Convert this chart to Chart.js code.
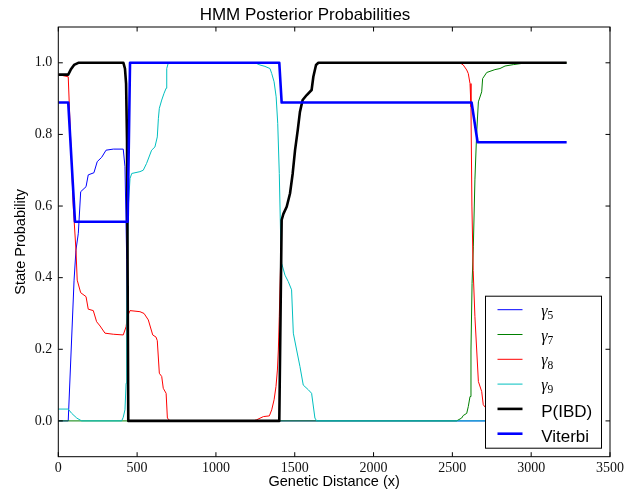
<!DOCTYPE html>
<html>
<head>
<meta charset="utf-8">
<title>HMM Posterior Probabilities</title>
<script src="https://cdn.jsdelivr.net/npm/chart.js@4.4.1/dist/chart.umd.min.js"></script>
<style>
    html, body { margin: 0; padding: 0; background: #fff; }
    #wrap { width: 627px; height: 497px; }
</style>
</head>
<body>
<div id="wrap"><canvas id="posteriorChart" width="627" height="497"></canvas></div>
<script>
// Axis ticks
const xTicks = [0, 500, 1000, 1500, 2000, 2500, 3000, 3500];
const yTicks = [0.0, 0.2, 0.4, 0.6, 0.8, 1.0];

// Posterior probability of each hidden state along the sequence, [distance, prob]
const gamma5 = [
    [0, 0], [63, 0], [100, 0.393], [112, 0.477], [127, 0.524], [142, 0.640],
    [176, 0.654], [190, 0.687], [226, 0.693], [247, 0.724], [275, 0.736],
    [303, 0.756], [349, 0.759], [412, 0.759], [423, 0.710], [434, 0.450],
    [444, 0], [3225, 0]
];
const gamma7 = [
    [0, 0], [2527, 0], [2559, 0.008], [2569, 0.015], [2591, 0.021], [2601, 0.040],
    [2612, 0.068], [2618, 0.198], [2625, 0.384], [2633, 0.486], [2643, 0.673],
    [2654, 0.803], [2665, 0.891], [2686, 0.919], [2692, 0.956], [2718, 0.973],
    [2770, 0.981], [2802, 0.984], [2834, 0.991], [2887, 0.995], [2971, 1.0], [3225, 1.0]
];
const gamma8 = [
    [0, 0.967], [63, 0.961], [95, 0.598], [112, 0.477], [120, 0.393], [142, 0.358],
    [176, 0.347], [190, 0.312], [222, 0.308], [243, 0.277], [265, 0.265], [296, 0.245],
    [349, 0.242], [412, 0.240], [430, 0.263], [438, 0.291], [455, 0.308], [518, 0.305],
    [544, 0.300], [571, 0.282], [599, 0.240], [620, 0.234], [628, 0.224], [641, 0.133],
    [656, 0.124], [666, 0.091], [684, 0.077], [692, 0.008], [709, 0], [1237, 0],
    [1258, 0.003], [1301, 0.012], [1339, 0.014], [1354, 0.031], [1369, 0.059],
    [1381, 0.096], [1390, 0.142], [1396, 0.198], [1402, 0.291], [1417, 0.561],
    [1428, 0.578], [1449, 0.598], [1470, 0.635], [1487, 0.691], [1502, 0.756],
    [1519, 0.812], [1533, 0.863], [1550, 0.896], [1576, 0.910], [1607, 0.924],
    [1618, 0.961], [1635, 0.994], [1650, 1.0], [2548, 1.0], [2569, 0.994],
    [2591, 0.980], [2601, 0.970], [2612, 0.942], [2618, 0.877], [2624, 0.600],
    [2632, 0.420], [2643, 0.291], [2665, 0.110], [2686, 0.082], [2696, 0.045],
    [2718, 0.033], [2760, 0], [3225, 0]
];
const gamma9 = [
    [0, 0.033], [63, 0.033], [85, 0.021], [117, 0.008], [148, 0], [402, 0],
    [412, 0.010], [423, 0.031], [430, 0.105], [434, 0.290], [440, 0.477], [444, 0.598],
    [455, 0.677], [466, 0.691], [518, 0.696], [539, 0.700], [560, 0.719], [592, 0.756],
    [613, 0.765], [628, 0.793], [635, 0.845], [641, 0.873], [656, 0.896], [671, 0.915],
    [684, 0.929], [688, 0.984], [698, 1.0], [1248, 1.0], [1279, 0.994], [1311, 0.990],
    [1343, 0.984], [1354, 0.970], [1369, 0.947], [1382, 0.905], [1392, 0.831],
    [1402, 0.691], [1411, 0.505], [1417, 0.440], [1438, 0.407], [1459, 0.389],
    [1480, 0.366], [1491, 0.245], [1512, 0.198], [1533, 0.152], [1554, 0.100],
    [1586, 0.087], [1607, 0.077], [1628, 0.008], [1639, 0], [3225, 0]
];
// Probability of identity by descent
const pIBD = [
    [0, 0.967], [63, 0.967], [79, 0.981], [100, 0.994], [127, 1.0], [413, 1.0],
    [423, 0.984], [430, 0.942], [436, 0.784], [444, 0], [1402, 0], [1417, 0.561],
    [1428, 0.578], [1449, 0.598], [1470, 0.635], [1487, 0.691], [1502, 0.756],
    [1519, 0.812], [1533, 0.863], [1550, 0.896], [1576, 0.910], [1607, 0.924],
    [1618, 0.961], [1635, 0.994], [1650, 1.0], [3225, 1.0]
];
// Viterbi path, state index / 9
const viterbi = [
    [0, 0.889], [63, 0.889], [106, 0.556], [440, 0.556], [455, 1.0], [1402, 1.0],
    [1417, 0.889], [2622, 0.889], [2660, 0.778], [3225, 0.778]
];

function toPoints(pairs) {
    return pairs.map(p => ({ x: p[0], y: p[1] }));
}

function series(label, pairs, color, width, order) {
    return {
        label: label,
        data: toPoints(pairs),
        borderColor: color,
        borderWidth: width,
        borderJoinStyle: 'round',
        pointRadius: 0,
        tension: 0,
        fill: false,
        order: order
    };
}

/**
 * Box frame with inward ticks on all four sides
 */
const frameTicks = {
    id: 'frameTicks',
    afterDatasetsDraw(chart) {
        const { ctx, chartArea: a, scales } = chart;
        const len = 4.5;
        ctx.save();
        ctx.strokeStyle = '#000';
        ctx.lineWidth = 1;
        ctx.beginPath();
        xTicks.forEach(v => {
            const px = scales.x.getPixelForValue(v);
            ctx.moveTo(px, a.bottom); ctx.lineTo(px, a.bottom - len);
            ctx.moveTo(px, a.top); ctx.lineTo(px, a.top + len);
        });
        yTicks.forEach(v => {
            const py = scales.y.getPixelForValue(v);
            ctx.moveTo(a.left, py); ctx.lineTo(a.left + len, py);
            ctx.moveTo(a.right, py); ctx.lineTo(a.right - len, py);
        });
        ctx.stroke();
        ctx.strokeRect(a.left, a.top, a.right - a.left, a.bottom - a.top);
        ctx.restore();
    }
};

/**
 * Legend in a bordered box at the lower right of the plot
 */
const boxLegend = {
    id: 'boxLegend',
    afterDraw(chart) {
        const { ctx, chartArea: a } = chart;
        const w = 116, h = 152;
        const left = a.right - 8.5 - w;
        const top = a.bottom - 8.5 - h;
        ctx.save();
        ctx.fillStyle = '#fff';
        ctx.fillRect(left, top, w, h);
        ctx.strokeStyle = '#000';
        ctx.lineWidth = 1;
        ctx.strokeRect(left, top, w, h);

        chart.data.datasets.forEach((ds, i) => {
            const rowY = top + 13.5 + i * 24.8;
            ctx.strokeStyle = ds.borderColor;
            ctx.lineWidth = ds.borderWidth;
            ctx.beginPath();
            ctx.moveTo(left + 12, rowY);
            ctx.lineTo(left + 37, rowY);
            ctx.stroke();

            const tx = left + 55.7;
            ctx.fillStyle = '#000';
            ctx.textAlign = 'left';
            ctx.textBaseline = 'alphabetic';
            if (ds.label.startsWith('γ')) {
                // greek symbol with a subscript index
                ctx.font = 'italic 16px "Liberation Serif"';
                ctx.fillText('γ', tx, rowY + 6);
                const gw = ctx.measureText('γ').width;
                ctx.font = '11.5px "Liberation Serif"';
                ctx.fillText(ds.label.slice(1), tx + gw, rowY + 9.3);
            } else {
                ctx.font = '17px "Liberation Sans"';
                ctx.fillText(ds.label, tx, rowY + 8.4);
            }
        });
        ctx.restore();
    }
};

const tickFont = { family: '"Liberation Serif", serif', size: 14 };
const labelFont = { family: '"Liberation Sans", Arial, sans-serif', size: 14.5 };

const ctx = document.getElementById('posteriorChart');
new Chart(ctx, {
    type: 'line',
    data: {
        datasets: [
            series('γ5', gamma5, '#0000ff', 1, 6),
            series('γ7', gamma7, '#008000', 1, 5),
            series('γ8', gamma8, '#ff0000', 1, 4),
            series('γ9', gamma9, '#00bfbf', 1, 3),
            series('P(IBD)', pIBD, '#000000', 2.6, 2),
            series('Viterbi', viterbi, '#0000ff', 2.6, 1)
        ]
    },
    options: {
        responsive: false,
        animation: false,
        devicePixelRatio: 1,
        layout: { padding: { left: 0, top: 0, right: 17, bottom: 0 } },
        plugins: {
            legend: { display: false },
            tooltip: { enabled: false },
            title: {
                display: true,
                text: 'HMM Posterior Probabilities',
                color: '#000',
                font: { family: '"Liberation Sans", Arial, sans-serif', size: 17, weight: 'normal' },
                padding: { top: 5.6, bottom: 1 }
            }
        },
        scales: {
            x: {
                type: 'linear',
                min: 0,
                max: 3500,
                grid: { display: false, drawTicks: false },
                border: { display: false },
                ticks: {
                    stepSize: 500,
                    color: '#111',
                    font: tickFont,
                    padding: 3,
                    maxRotation: 0,
                    callback: v => String(v)
                },
                title: {
                    display: true,
                    text: 'Genetic Distance (x)',
                    color: '#000',
                    font: labelFont,
                    padding: { top: 0, bottom: 6 }
                },
                afterFit: scale => { scale.height = 40.3; }
            },
            y: {
                min: -0.1,
                max: 1.1,
                grid: { display: false, drawTicks: false },
                border: { display: false },
                afterBuildTicks: scale => {
                    scale.ticks = yTicks.map(v => ({ value: v }));
                },
                ticks: {
                    color: '#111',
                    font: tickFont,
                    padding: 6,
                    callback: v => v.toFixed(1)
                },
                title: {
                    display: true,
                    text: 'State Probability',
                    color: '#000',
                    font: labelFont,
                    padding: { top: 11.8, bottom: 0 }
                },
                afterFit: scale => { scale.width = 58.3; }
            }
        }
    },
    plugins: [frameTicks, boxLegend]
});
</script>
</body>
</html>
